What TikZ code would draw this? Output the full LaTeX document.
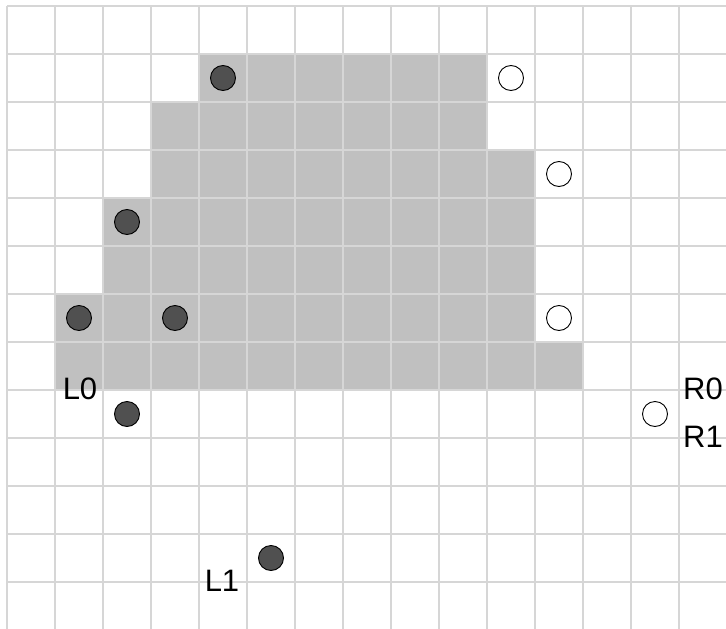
\documentclass[tikz,border=0pt]{standalone}
\usepackage{fontspec}
\setmainfont{Liberation Sans}
\definecolor{cellgray}{HTML}{C0C0C0}
\definecolor{gridgray}{HTML}{D6D6D6}
\definecolor{dotdark}{HTML}{505050}
\begin{document}
\begin{tikzpicture}[x=1pt,y=-1pt,
  filled/.style={circle,draw=black,fill=dotdark,line width=0.9pt,minimum size=25pt,inner sep=0pt},
  hollow/.style={circle,draw=black,fill=white,line width=0.9pt,minimum size=25pt,inner sep=0pt},
  lbl/.style={font=\fontsize{31}{36}\selectfont,inner sep=0pt}]
\useasboundingbox (0,0) rectangle (726,629);
\fill[white] (0,0) rectangle (726,629);
% shaded region
\fill[cellgray] (199,54) -- (487,54) -- (487,150) -- (535,150) -- (535,342) -- (583,342) -- (583,390)
  -- (55,390) -- (55,294) -- (103,294) -- (103,198) -- (151,198) -- (151,102) -- (199,102) -- cycle;
% grid
\foreach \x in {7,55,...,727} \draw[gridgray,line width=1.5pt] (\x,6) -- (\x,629);
\foreach \y in {6,54,...,630} \draw[gridgray,line width=1.5pt] (7,\y) -- (726,\y);
% dark points
\node[filled] (d1) at (223,78) {};
\node[filled] (d2) at (127,222) {};
\node[filled] (d3) at (79,318) {};
\node[filled] (d4) at (175,318) {};
\node[filled] (d5) at (127,414) {};
\node[filled] (d6) at (271,558) {};
% hollow points
\node[hollow] (w1) at (511,78) {};
\node[hollow] (w2) at (559,174) {};
\node[hollow] (w3) at (559,318) {};
\node[hollow] (w4) at (655,414) {};
% labels
\node[lbl] (L0) at (80,389) {L0};
\node[lbl] (L1) at (222,581) {L1};
\node[lbl] (R0) at (703,389) {R0};
\node[lbl] (R1) at (703,437) {R1};
\end{tikzpicture}
\end{document}
